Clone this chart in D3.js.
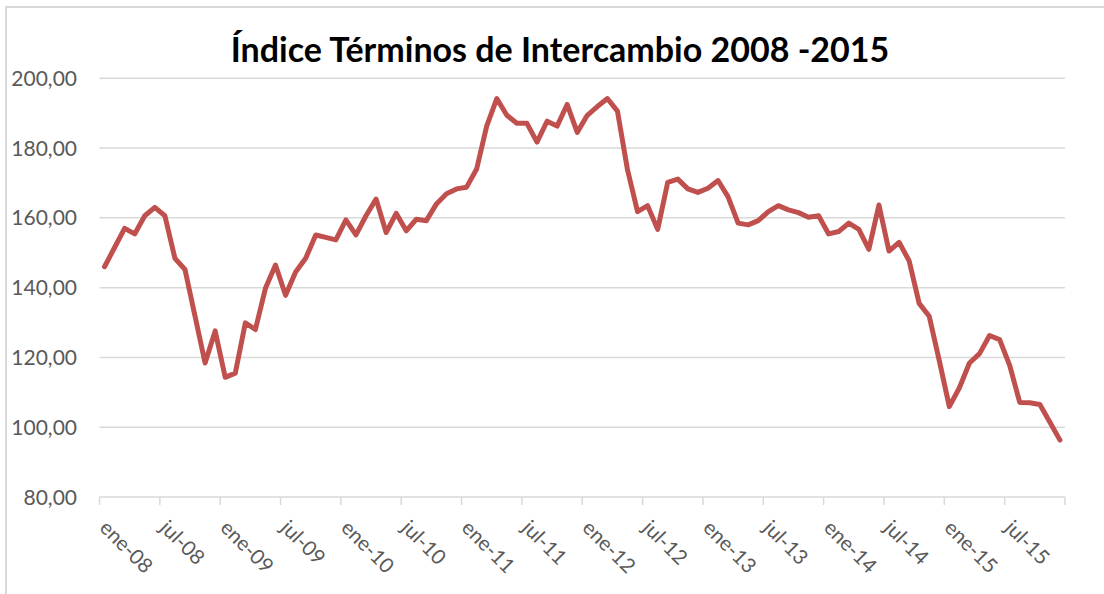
<!DOCTYPE html>
<html>
<head>
<meta charset="utf-8">
<script src="https://cdn.jsdelivr.net/npm/d3@7"></script>
<style>
    body { margin: 0; background: #fff; }
    svg { display: block; font-family: Lato, "Open Sans", sans-serif; }
</style>
</head>
<body>
<svg id="chart" width="1104" height="594"></svg>
<script>
// ==========================================================
// DATA — Índice Términos de Intercambio, ene-08 .. dic-15
// ==========================================================

const monthNames = ["ene", "feb", "mar", "abr", "may", "jun",
                    "jul", "ago", "sep", "oct", "nov", "dic"];
const years = ["08", "09", "10", "11", "12", "13", "14", "15"];

const indexValues = [
    146.0, 151.5, 157.0, 155.4, 160.6, 163.0, 160.6, 148.4, 145.2, 131.8, 118.4, 127.6,
    114.3, 115.5, 129.9, 128.0, 139.8, 146.5, 137.8, 144.5, 148.4, 155.1, 154.4, 153.7,
    159.4, 155.1, 160.6, 165.4, 155.8, 161.3, 156.3, 159.6, 159.2, 164.0, 166.9, 168.3,
    168.8, 174.0, 186.3, 194.2, 189.4, 187.1, 187.1, 181.7, 187.7, 186.3, 192.5, 184.5,
    189.4, 191.9, 194.2, 190.6, 173.8, 161.8, 163.5, 156.7, 170.2, 171.1, 168.3, 167.3,
    168.5, 170.7, 166.0, 158.5, 158.0, 159.2, 161.8, 163.5, 162.3, 161.5, 160.2, 160.6,
    155.4, 156.1, 158.5, 156.7, 151.0, 163.7, 150.5, 153.0, 147.7, 135.5, 131.8, 119.1,
    105.9, 111.3, 118.4, 121.1, 126.3, 125.1, 117.7, 107.1, 107.0, 106.5, 101.4, 96.3
];

const yTicks = [80, 100, 120, 140, 160, 180, 200];
const titleText = "Índice Términos de Intercambio 2008 -2015";

// categories "ene-08", "feb-08", ...
const categories = [];
years.forEach(y => monthNames.forEach(m => categories.push(`${m}-${y}`)));

const data = categories.map((c, i) => ({ cat: c, value: indexValues[i] }));

// ==========================================================
// DRAW
// ==========================================================

const svg = d3.select("#chart");
const gridColor = "#d9d9d9";
const textColor = "#595959";

// outer chart frame (right/bottom edges fall outside the picture)
svg.append("rect")
    .attr("x", 6).attr("y", 7)
    .attr("width", 1120).attr("height", 620)
    .attr("fill", "none")
    .attr("stroke", gridColor)
    .attr("stroke-width", 2);

const x = d3.scaleBand()
    .domain(categories)
    .range([99.5, 1065])
    .paddingInner(0)
    .paddingOuter(0);

const y = d3.scaleLinear()
    .domain([80, 200])
    .range([497, 78.3]);

// horizontal gridlines
svg.append("g")
    .selectAll("line")
    .data(yTicks)
    .join("line")
    .attr("x1", x.range()[0])
    .attr("x2", x.range()[1])
    .attr("y1", d => y(d))
    .attr("y2", d => y(d))
    .attr("stroke", gridColor)
    .attr("stroke-width", 1.5);

// y labels
svg.append("g")
    .selectAll("text")
    .data(yTicks)
    .join("text")
    .attr("x", 77)
    .attr("y", d => y(d))
    .attr("dy", "0.36em")
    .attr("text-anchor", "end")
    .attr("fill", textColor)
    .attr("font-size", 21)
    .text(d => d3.format(".2f")(d).replace(".", ","));

// x axis tick marks every 6 months, plus the end
const tickCats = categories.filter((c, i) => i % 6 === 0);
const tickXs = tickCats.map(c => x(c)).concat([x.range()[1]]);

svg.append("g")
    .selectAll("line")
    .data(tickXs)
    .join("line")
    .attr("x1", d => d).attr("x2", d => d)
    .attr("y1", y(80)).attr("y2", y(80) + 8)
    .attr("stroke", gridColor)
    .attr("stroke-width", 1.5);

// x labels, rotated
svg.append("g")
    .selectAll("text")
    .data(tickCats)
    .join("text")
    .attr("transform", c => `translate(${x(c) + x.bandwidth() / 2 - 6},${529}) rotate(45)`)
    .attr("text-anchor", "start")
    .attr("fill", textColor)
    .attr("font-size", 20.5)
    .text(c => c);

// the series line
const line = d3.line()
    .x(d => x(d.cat) + x.bandwidth() / 2)
    .y(d => y(d.value));

svg.append("path")
    .datum(data)
    .attr("d", line)
    .attr("fill", "none")
    .attr("stroke", "#c0504d")
    .attr("stroke-width", 5)
    .attr("stroke-linejoin", "round")
    .attr("stroke-linecap", "round");

// title
svg.append("text")
    .attr("x", 560)
    .attr("y", 62)
    .attr("text-anchor", "middle")
    .attr("font-size", 34)
    .attr("font-weight", "bold")
    .attr("fill", "#000")
    .text(titleText);
</script>
</body>
</html>
